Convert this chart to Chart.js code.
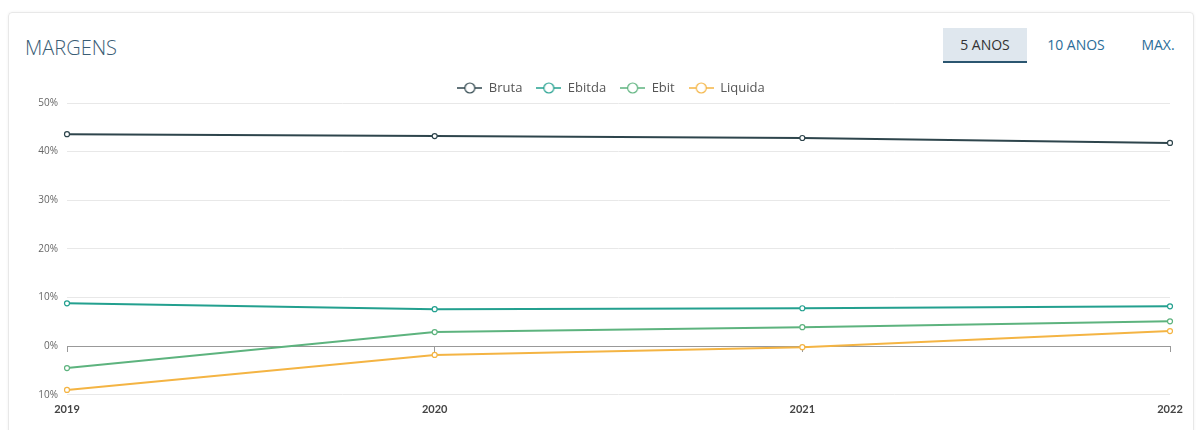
<!DOCTYPE html>
<html>
<head>
<meta charset="utf-8">
<script src="https://cdn.jsdelivr.net/npm/chart.js@4/dist/chart.umd.min.js"></script>
<style>
  body { margin: 0; background: #fff; font-family: "Open Sans", "Noto Sans", sans-serif; }
  .card { position: absolute; left: 8px; top: 12px; width: 1184px; height: 440px;
          border: 1px solid #e8e8e8; border-radius: 4px; box-shadow: 0 0 3px rgba(0,0,0,0.06); }
  .title { position: absolute; left: 16px; top: 21px; font-size: 20px; font-weight: 300; color: #3a5d75; }
  .tab { position: absolute; top: 15px; height: 33px; line-height: 33px; font-size: 14px; color: #2b6d99; text-align: center; }
  .tab.on { background: #dfe7ee; color: #333; border-bottom: 2px solid #2b5670; }
  .wrap { position: absolute; left: 0; top: 65px; width: 1196px; height: 365px; }
</style>
</head>
<body>
<div class="card">
  <div class="title">MARGENS</div>
  <div class="tab on" style="left:934px;width:84px;">5 ANOS</div>
  <div class="tab" style="left:1029px;width:76px;">10 ANOS</div>
  <div class="tab" style="left:1122px;width:54px;">MAX.</div>
</div>
<div class="wrap"><canvas id="myChart"></canvas></div>
<script>
let anos = ["2019", "2020", "2021", "2022"];

let bruta = [43.6, 43.2, 42.8, 41.8];
let ebitda = [8.8, 7.6, 7.8, 8.2];
let ebit = [-4.5, 2.9, 3.9, 5.1];
let liquida = [-9.0, -1.8, -0.2, 3.1];

let cores = {
  bruta: "#2e454c",
  ebitda: "#23a08f",
  ebit: "#5db37e",
  liquida: "#f4b443"
};

// small "-o-" icon for the legend
let makeIcon = color => {
  let c = document.createElement("canvas");
  c.width = 25;
  c.height = 12;
  let g = c.getContext("2d");
  g.strokeStyle = color;
  g.lineWidth = 1.5;
  g.beginPath();
  g.moveTo(0, 6);
  g.lineTo(25, 6);
  g.stroke();
  g.beginPath();
  g.arc(12.5, 6, 5, 0, Math.PI * 2);
  g.fillStyle = "#fff";
  g.fill();
  g.lineWidth = 1.2;
  g.stroke();
  return c;
};

let serie = (label, data, color) => ({
  label: label,
  data: data,
  borderColor: color,
  backgroundColor: "#fff",
  borderWidth: 2,
  pointRadius: 2.5,
  pointBorderWidth: 1.2,
  pointBackgroundColor: "#fff",
  pointBorderColor: color,
  tension: 0,
  fill: false
});

// center the legend over the plot area instead of the whole canvas
let legendShift = {
  id: "legendShift",
  afterLayout: chart => {
    chart.legend.left += 52;
  }
};

let ctx = document.getElementById("myChart").getContext("2d");
let myLineChart = new Chart(ctx, {
  type: "line",
  data: {
    labels: anos,
    datasets: [
      serie("Bruta", bruta, cores.bruta),
      serie("Ebitda", ebitda, cores.ebitda),
      serie("Ebit", ebit, cores.ebit),
      serie("Liquida", liquida, cores.liquida)
    ]
  },
  plugins: [legendShift],
  options: {
    responsive: true,
    maintainAspectRatio: false,
    animation: false,
    layout: { padding: { top: 2.5, right: 26, bottom: 14, left: 0 } },
    plugins: {
      tooltip: { enabled: false },
      legend: {
        position: "top",
        maxHeight: 35.5,
        labels: {
          usePointStyle: true,
          pointStyleWidth: 25,
          padding: 14,
          color: "#555",
          font: { size: 13, family: "'Open Sans', sans-serif" },
          generateLabels: chart => {
            let items = Chart.defaults.plugins.legend.labels.generateLabels(chart);
            items.forEach(item => {
              item.pointStyle = makeIcon(chart.data.datasets[item.datasetIndex].borderColor);
            });
            return items;
          }
        }
      }
    },
    scales: {
      x: {
        grid: { display: false },
        border: { display: false },
        ticks: {
          padding: 0,
          color: "#444",
          font: { size: 11, weight: "bold", family: "Lato, sans-serif" }
        }
      },
      x2: {
        type: "category",
        labels: anos,
        axis: "x",
        position: { y: 0 },
        grid: { drawOnChartArea: false, tickLength: 5, color: "#999" },
        border: { color: "#999" },
        ticks: { display: false }
      },
      y: {
        min: -10,
        max: 50,
        afterFit: scale => { scale.width = 67; },
        border: { display: false },
        grid: {
          drawTicks: false,
          color: c => (c.tick && c.tick.value === 0 ? "#999" : "#e8e8e8")
        },
        ticks: {
          stepSize: 10,
          padding: 9,
          color: "#666",
          font: { size: 10, family: "'Open Sans', sans-serif" },
          callback: v => Math.abs(v) + "%"
        }
      }
    }
  }
});
</script>
</body>
</html>
